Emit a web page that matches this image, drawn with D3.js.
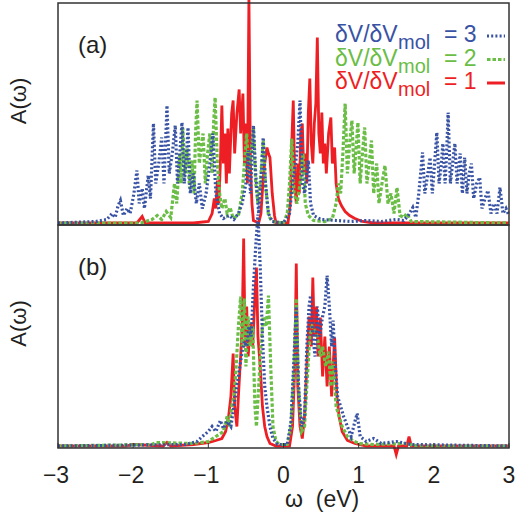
<!DOCTYPE html>
<html lang="en">
<head>
  <meta charset="utf-8">
  <title>A(w) spectra</title>
  <script src="https://cdn.jsdelivr.net/npm/d3@7"></script>
  <style>
    body { margin: 0; background: #fff; }
    text { font-family: "Liberation Sans", Arial, Helvetica, sans-serif; fill: #231f20; }
  </style>
</head>
<body>
<script>
// spectral data, [omega (eV), A (arb. units)]
// panel (a)
var redA = [[-3,0.5],[-1.95,0.5],[-1.88,7],[-1.84,0.5],[-1.2,0.5],[-1.0,2],[-0.95,10],[-0.92,25],[-0.9,15],[-0.88,43],[-0.86,20],[-0.84,60],[-0.82,118],[-0.8,60],[-0.78,90],[-0.76,40],[-0.74,95],[-0.72,50],[-0.69,110],[-0.67,123],[-0.65,70],[-0.62,110],[-0.59,134],[-0.57,90],[-0.54,130],[-0.52,60],[-0.5,100],[-0.48,40],[-0.46,226],[-0.44,60],[-0.42,20],[-0.4,3],[-0.33,0.5],[-0.3,10],[-0.27,45],[-0.25,60],[-0.22,76],[-0.2,70],[-0.18,66],[-0.15,30],[-0.12,8],[-0.1,0.5],[0.06,0.5],[0.09,20],[0.11,80],[0.13,123],[0.15,40],[0.17,20],[0.19,60],[0.21,30],[0.23,90],[0.25,100],[0.27,50],[0.29,70],[0.31,40],[0.33,110],[0.35,145],[0.37,80],[0.39,60],[0.41,100],[0.43,120],[0.45,186],[0.47,90],[0.49,70],[0.51,111],[0.53,60],[0.55,80],[0.57,50],[0.6,90],[0.63,106],[0.65,60],[0.68,76],[0.7,40],[0.73,25],[0.77,18],[0.82,12],[0.88,8],[0.95,5],[1.05,2],[1.2,0.5],[3,0.5]];
var greenA = [[-3,0.5],[-1.9,0.5],[-1.75,4],[-1.68,8],[-1.62,4],[-1.56,12],[-1.5,6],[-1.45,40],[-1.42,20],[-1.38,70],[-1.36,40],[-1.34,96],[-1.31,50],[-1.28,75],[-1.25,35],[-1.22,63],[-1.19,30],[-1.17,90],[-1.15,123],[-1.12,60],[-1.09,80],[-1.07,90],[-1.04,40],[-1.01,70],[-0.98,90],[-0.95,50],[-0.93,100],[-0.91,126],[-0.88,60],[-0.85,30],[-0.82,15],[-0.78,25],[-0.75,10],[-0.71,16],[-0.67,5],[-0.6,8],[-0.55,30],[-0.52,60],[-0.49,90],[-0.46,50],[-0.43,70],[-0.4,96],[-0.37,40],[-0.34,20],[-0.3,50],[-0.27,83],[-0.24,40],[-0.2,8],[-0.15,2],[0.0,0.5],[0.05,10],[0.08,40],[0.11,85],[0.14,30],[0.18,20],[0.22,40],[0.26,70],[0.29,20],[0.33,8],[0.4,3],[0.55,2],[0.65,5],[0.7,20],[0.73,40],[0.76,30],[0.79,70],[0.82,120],[0.85,50],[0.88,80],[0.91,103],[0.94,50],[0.97,80],[0.99,101],[1.02,40],[1.05,70],[1.08,96],[1.11,40],[1.14,60],[1.17,83],[1.2,30],[1.24,60],[1.27,20],[1.31,40],[1.35,58],[1.39,20],[1.43,30],[1.47,10],[1.51,36],[1.55,8],[1.6,6],[1.64,10],[1.7,2],[3,0.5]];
var blueA = [[-3,0.5],[-2.5,2],[-2.35,4],[-2.28,10],[-2.24,6],[-2.2,18],[-2.17,23],[-2.13,8],[-2.08,15],[-2.04,10],[-1.99,30],[-1.95,53],[-1.92,20],[-1.88,35],[-1.85,15],[-1.8,48],[-1.77,25],[-1.73,100],[-1.7,40],[-1.66,60],[-1.62,86],[-1.59,40],[-1.55,118],[-1.52,50],[-1.48,70],[-1.44,98],[-1.41,40],[-1.38,70],[-1.35,101],[-1.32,40],[-1.29,70],[-1.27,96],[-1.24,30],[-1.2,50],[-1.16,20],[-1.12,40],[-1.08,15],[-1.03,30],[-0.98,60],[-0.94,90],[-0.9,30],[-0.85,10],[-0.8,5],[-0.72,8],[-0.66,4],[-0.6,10],[-0.55,20],[-0.5,40],[-0.47,73],[-0.44,30],[-0.4,98],[-0.37,50],[-0.33,10],[-0.3,40],[-0.27,86],[-0.24,40],[-0.2,10],[-0.15,2],[0.0,0.5],[0.08,10],[0.12,40],[0.16,60],[0.19,80],[0.22,123],[0.25,40],[0.28,30],[0.31,50],[0.33,63],[0.36,20],[0.4,8],[0.5,4],[0.7,3],[0.9,2],[1.1,3],[1.3,2],[1.5,4],[1.6,3],[1.66,8],[1.72,16],[1.76,6],[1.8,30],[1.85,71],[1.88,30],[1.92,50],[1.95,66],[1.98,30],[2.01,60],[2.04,91],[2.07,40],[2.1,60],[2.12,80],[2.15,40],[2.17,70],[2.19,111],[2.22,40],[2.25,60],[2.28,80],[2.31,40],[2.35,70],[2.38,30],[2.41,66],[2.44,30],[2.47,50],[2.5,60],[2.53,25],[2.57,40],[2.61,46],[2.64,15],[2.68,25],[2.72,33],[2.76,10],[2.8,20],[2.84,10],[2.88,36],[2.92,10],[2.96,15],[3,8]];
// panel (b)
var redB = [[-3,0.5],[-2.1,0.5],[-2.0,2],[-1.6,0.5],[-1.55,4],[-1.5,0.5],[-1.2,2],[-1.1,3],[-1.0,4],[-0.9,6],[-0.82,8],[-0.77,15],[-0.73,30],[-0.7,50],[-0.67,93],[-0.65,40],[-0.62,20],[-0.6,50],[-0.57,90],[-0.55,120],[-0.53,208],[-0.51,100],[-0.49,140],[-0.47,90],[-0.44,123],[-0.41,100],[-0.38,150],[-0.36,179],[-0.34,110],[-0.31,80],[-0.28,40],[-0.25,20],[-0.22,10],[-0.18,3],[-0.1,0.5],[0.08,0.5],[0.12,20],[0.15,80],[0.17,183],[0.19,60],[0.22,20],[0.25,8],[0.28,30],[0.31,80],[0.34,130],[0.37,100],[0.39,169],[0.41,110],[0.44,140],[0.46,90],[0.49,129],[0.52,70],[0.55,110],[0.58,60],[0.61,100],[0.64,50],[0.66,80],[0.68,109],[0.71,50],[0.74,30],[0.78,15],[0.85,6],[0.95,3],[1.1,0.5],[1.47,0.5],[1.5,-8],[1.53,0.5],[1.64,0.5],[1.67,10],[1.7,0.5],[3,0.5]];
var greenB = [[-3,0.5],[-1.75,2],[-1.7,4],[-1.2,3],[-1.0,5],[-0.9,10],[-0.8,15],[-0.75,30],[-0.72,20],[-0.69,40],[-0.66,50],[-0.63,80],[-0.6,120],[-0.57,150],[-0.55,100],[-0.52,148],[-0.5,80],[-0.47,130],[-0.44,100],[-0.41,120],[-0.38,40],[-0.36,20],[-0.33,60],[-0.3,100],[-0.27,130],[-0.23,120],[-0.2,151],[-0.17,80],[-0.14,20],[-0.1,5],[-0.05,2],[0.05,2],[0.1,20],[0.14,80],[0.17,148],[0.2,60],[0.24,15],[0.28,20],[0.31,60],[0.35,110],[0.38,120],[0.42,115],[0.45,110],[0.49,90],[0.52,100],[0.56,80],[0.6,95],[0.63,60],[0.66,85],[0.7,40],[0.74,30],[0.78,20],[0.85,10],[0.92,6],[1.0,3],[1.2,2],[1.6,3],[1.8,0.5],[3,0.5]];
var blueB = [[-3,0.5],[-1.3,2],[-1.15,5],[-1.08,10],[-1.0,15],[-0.95,20],[-0.9,15],[-0.84,26],[-0.8,18],[-0.75,25],[-0.7,20],[-0.66,40],[-0.62,60],[-0.58,80],[-0.55,95],[-0.52,105],[-0.49,100],[-0.46,120],[-0.43,110],[-0.4,160],[-0.37,200],[-0.34,232],[-0.31,180],[-0.28,110],[-0.25,60],[-0.22,40],[-0.18,20],[-0.14,8],[-0.08,2],[0.05,2],[0.1,25],[0.14,90],[0.17,140],[0.2,60],[0.24,20],[0.28,30],[0.31,100],[0.34,140],[0.36,151],[0.39,110],[0.42,90],[0.45,140],[0.48,110],[0.52,130],[0.55,140],[0.58,171],[0.61,140],[0.64,100],[0.66,126],[0.69,80],[0.72,50],[0.76,40],[0.8,30],[0.85,20],[0.9,10],[0.95,25],[0.98,33],[1.02,10],[1.1,5],[1.2,8],[1.3,3],[1.5,5],[1.7,2],[3,0.5]];

var xTicks = [-3, -2, -1, 0, 1, 2, 3];
var legendValues = ["3", "2", "1"];
var colors = { blue: "#3953a4", green: "#6abd45", red: "#ed1f24" };

var w = 520, h = 517;
var left = 58, right = 509;
var panels = [
  { top: 3, bottom: 225, base: 223.5, label: "(a)", series: [redA, greenA, blueA] },
  { top: 225, bottom: 448, base: 446.5, label: "(b)", series: [redB, greenB, blueB] }
];

var svg = d3.select("body").append("svg")
  .attr("width", w)
  .attr("height", h);

var x = d3.scaleLinear().domain([-3, 3]).range([left, right]);

var styles = [
  { color: colors.red, width: 2.8, dash: null },
  { color: colors.green, width: 3.2, dash: "3.5,2" },
  { color: colors.blue, width: 3.2, dash: "2,2.2" }
];

panels.forEach(function(p) {
  var y = d3.scaleLinear().domain([0, 220]).range([p.base, p.base - 220]);
  var line = d3.line()
    .x(function(d) { return x(d[0]); })
    .y(function(d) { return y(d[1]); });

  p.series.forEach(function(s, i) {
    svg.append("path")
      .datum(s)
      .attr("d", line)
      .attr("fill", "none")
      .attr("stroke", styles[i].color)
      .attr("stroke-width", styles[i].width)
      .attr("stroke-dasharray", styles[i].dash)
      .attr("stroke-linejoin", "miter");
  });

  svg.append("rect")
    .attr("x", left)
    .attr("y", p.top)
    .attr("width", right - left)
    .attr("height", p.bottom - p.top)
    .attr("fill", "none")
    .attr("stroke", "#333")
    .attr("stroke-width", 1.5);

  svg.append("text")
    .attr("x", 78)
    .attr("y", p.top + 50)
    .attr("font-size", 24)
    .text(p.label);

  svg.append("text")
    .attr("transform", "translate(26," + ((p.top + p.bottom) / 2 - 13) + ") rotate(-90)")
    .attr("text-anchor", "middle")
    .attr("font-size", 22)
    .text("A(ω)");
});

// inward ticks on the bottom axis
svg.selectAll(".tick")
  .data(xTicks)
  .enter()
  .append("line")
  .attr("x1", function(d) { return x(d); })
  .attr("x2", function(d) { return x(d); })
  .attr("y1", 448)
  .attr("y2", 443)
  .attr("stroke", "#333")
  .attr("stroke-width", 1);

svg.selectAll(".tlab")
  .data(xTicks)
  .enter()
  .append("text")
  .attr("x", function(d) { return x(d) + (d < 0 ? -2 : 0); })
  .attr("y", 483)
  .attr("text-anchor", "middle")
  .attr("font-size", 23)
  .text(function(d) { return d < 0 ? "\u2212" + Math.abs(d) : d; });

svg.append("text")
  .attr("x", 285)
  .attr("y", 507)
  .attr("font-size", 23)
  .attr("xml:space", "preserve")
  .text("ω  (eV)");

// legend: separate pieces so the rows stay apart
var legColors = [colors.blue, colors.green, colors.red];
var legDash = ["2,2.2", "3.5,2", null];
legendValues.forEach(function(v, i) {
  var yy = 42 + i * 23.5;
  svg.append("text")
    .attr("x", 335)
    .attr("y", yy)
    .attr("font-size", 23)
    .style("fill", legColors[i])
    .text("δV/δV");
  svg.append("text")
    .attr("x", 398)
    .attr("y", yy + 7)
    .attr("font-size", 20)
    .style("fill", legColors[i])
    .text("mol");
  svg.append("text")
    .attr("x", 444)
    .attr("y", yy)
    .attr("font-size", 23)
    .style("fill", legColors[i])
    .text("= " + v);

  svg.append("line")
    .attr("x1", 487)
    .attr("x2", 505)
    .attr("y1", yy - 6)
    .attr("y2", yy - 6)
    .attr("stroke", legColors[i])
    .attr("stroke-width", 3)
    .attr("stroke-dasharray", legDash[i]);
});
</script>
</body>
</html>
